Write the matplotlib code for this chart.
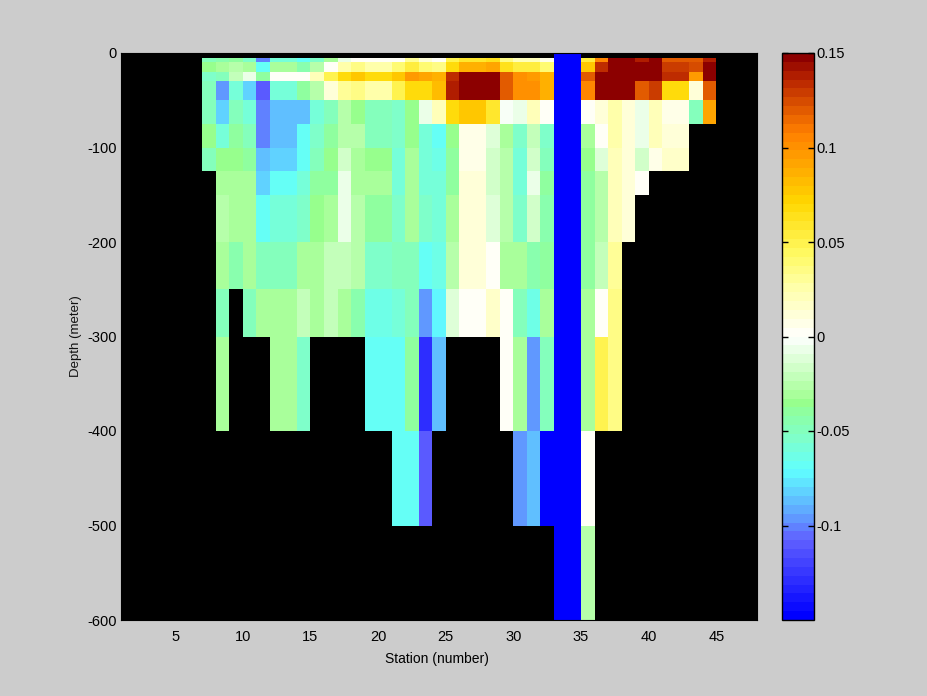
import numpy as np
import matplotlib
matplotlib.use('Agg')
import matplotlib.pyplot as plt
from matplotlib.colors import LinearSegmentedColormap

n = np.nan
b = -0.15

# cell edges, stations 7 to 45
stations = list(range(7, 46))
depths = [0, -5, -10, -20, -30, -50, -75, -100, -125, -150, -200, -250, -300, -400, -500, -600]

# one row per depth layer, columns are stations 7..44
row_0_5 = [n]*26 + [b, b] + [n]*10
row_5_10 = [-.048, -.044, -.041, -.054, -.103, -.06, -.06, -.07, -.054, -.032, -.007, 0, 0, 0, 0, .03, .011, 0, .05,
            .058, .058, .062, .033, .02, .021, .006, b, b, .055, .106, .15, .15, .14, .148, .118, .118, .118, .14]
row_10_20 = [-.036, -.032, -.025, -.03, -.07, -.032, -.032, -.044, -.025, 0, .026, .036, .024, .027, .042, .052, .042, .037, .068,
             .086, .086, .093, .063, .055, .055, .042, b, b, .075, .135, .15, .15, .15, .15, .13, .13, .122, .15]
row_20_30 = [-.052, -.05, -.02, -.007, -.04, .003, .003, .003, .022, .05, .068, .075, .068, .068, .076, .097, .09, .088, .135,
             .15, .15, .15, .118, .102, .097, .086, b, b, .118, .15, .15, .15, .15, .15, .135, .135, .097, .15]
row_30_50 = [-.05, -.094, -.06, -.08, -.109, -.06, -.06, -.042, -.028, .011, .032, .037, .027, .027, .05, .068, .068, .082, .14,
             .15, .15, .15, .118, .102, .102, .086, b, b, .106, .15, .15, .15, .118, .13, .068, .068, .011, .118]
row_50_75 = [-.05, -.08, -.05, -.06, -.103, -.088, -.088, -.088, -.06, -.048, -.028, -.036, -.05, -.05, -.056, -.035, -.007, .021, .068,
             .078, .078, .058, -.002, -.007, .021, .003, b, b, .003, .011, .027, .01, -.007, .023, .009, .009, -.048, .093]
row_75_100 = [-.036, -.06, -.04, -.048, -.099, -.085, -.085, -.07, -.056, -.038, -.026, -.026, -.048, -.048, -.052, -.036, -.06, -.07, -.036,
              .006, .006, -.012, -.032, -.052, -.022, -.052, b, b, -.032, .001, .027, .011, -.007, .023, .011, .011, n, n]
row_100_125 = [-.048, -.036, -.035, -.04, -.088, -.08, -.08, -.066, -.048, -.036, -.016, -.032, -.036, -.036, -.06, -.03, -.06, -.063, -.038,
               .007, .007, -.018, -.028, -.06, -.018, -.048, b, b, -.035, -.012, .021, .011, -.018, .006, .016, .016, n, n]
row_125_150 = [n, -.032, -.032, -.032, -.08, -.07, -.07, -.06, -.04, -.038, -.009, -.03, -.032, -.032, -.06, -.03, -.06, -.06, -.038,
               .012, .012, -.018, -.028, -.06, -.009, -.04, b, b, -.038, -.025, .023, .011, .002, n, n, n, n, n]
row_150_200 = [n, -.025, -.032, -.032, -.066, -.06, -.06, -.052, -.036, -.03, -.009, -.025, -.041, -.041, -.056, -.032, -.056, -.06, -.032,
               .013, .013, -.012, -.028, -.056, -.018, -.044, b, b, -.038, -.028, .023, .011, n, n, n, n, n, n]
row_200_250 = [n, -.032, -.044, -.032, -.048, -.048, -.048, -.032, -.032, -.02, -.02, -.026, -.056, -.056, -.048, -.048, -.07, -.063, -.028,
               .01, .01, .001, -.032, -.032, -.044, -.04, b, b, -.038, -.02, .031, n, n, n, n, n, n, n]
row_250_300 = [n, -.048, n, -.048, -.032, -.032, -.032, -.02, -.032, -.02, -.032, -.044, -.063, -.063, -.06, -.048, -.096, -.075, -.012,
               .002, .002, .018, .003, -.05, -.063, -.032, b, b, -.032, .003, .036, n, n, n, n, n, n, n]
row_300_400 = [n, -.032, n, n, n, -.032, -.032, -.056, n, n, n, n, -.07, -.07, -.07, -.041, -.129, -.088, n,
               n, n, n, .003, -.03, -.096, -.048, b, b, -.03, .05, .037, n, n, n, n, n, n, n]
row_400_500 = [n]*14 + [-.07, -.07, -.109] + [n]*6 + [-.094, -.088, -.148, b, b, 0] + [n]*9
row_500_600 = [n]*26 + [b, b, -.024] + [n]*9
rows = [row_0_5, row_5_10, row_10_20, row_20_30, row_30_50, row_50_75, row_75_100, row_100_125, row_125_150,
        row_150_200, row_200_250, row_250_300, row_300_400, row_400_500, row_500_600]

# colormap
cmap_pos = [0, .136, .18, .26, .32, .36, .38, .392, .5, .587, .647, .74, .794, .864, .9, .965, 1]
cmap_col = [(0, 0, 255), (96, 96, 255), (96, 160, 255), (96, 255, 255), (128, 255, 200), (140, 255, 165), (150, 255, 140),
            (165, 255, 150), (255, 255, 255), (255, 255, 170), (255, 250, 100), (255, 215, 0), (255, 176, 0),
            (255, 128, 0), (230, 96, 0), (180, 32, 0), (140, 0, 0)]

xticks = [5, 10, 15, 20, 25, 30, 35, 40, 45]
yticks = [0, -100, -200, -300, -400, -500, -600]
cbar_ticks = [0.15, 0.1, 0.05, 0, -0.05, -0.1]
cbar_labels = ['0.15', '0.1', '0.05', '0', '-0.05', '-0.1']

plt.rcParams['font.family'] = ['Liberation Sans', 'DejaVu Sans']
plt.rcParams['font.size'] = 10
plt.rcParams['axes.unicode_minus'] = False

cols = [tuple(v / 255 for v in c) for c in cmap_col]
cmap = LinearSegmentedColormap.from_list('ts', list(zip(cmap_pos, cols)), N=64)

fig = plt.figure(figsize=(9.28, 6.96), dpi=100, facecolor='#cccccc')
ax = fig.add_axes([121 / 928, 76 / 696, 636 / 928, 567 / 696], facecolor='black')
Z = np.ma.masked_invalid(np.array(rows))
mesh = ax.pcolormesh(stations, depths, Z, cmap=cmap, vmin=-0.15, vmax=0.15, antialiased=False, linewidth=0)
ax.set_xlim(1, 48)
ax.set_ylim(-600, 0)
ax.set_xticks(xticks)
ax.set_yticks(yticks)
ax.tick_params(axis='x', length=0, pad=7, labelsize=10.5)
ax.tick_params(axis='y', length=0, pad=3, labelsize=10.5)
ax.set_xlabel('Station (number)', labelpad=6, x=0.497)
ax.set_ylabel('Depth (meter)', labelpad=4, y=0.501, fontsize=9.5)
ax.yaxis.label.set_color('#111111')
for s in ax.spines.values():
    s.set_color('black')

cax = fig.add_axes([782 / 928, 76 / 696, 32 / 928, 567 / 696])
cb = fig.colorbar(mesh, cax=cax)
cb.set_ticks(cbar_ticks)
cb.set_ticklabels(cbar_labels)
cb.solids.set_antialiased(False)
cb.outline.set_edgecolor('black')
cb.outline.set_linewidth(1)
cax.tick_params(direction='in', length=4, width=1, left=True, right=True, pad=2, color='black', labelsize=10.5)

fig.savefig('out.png', dpi=100, facecolor=fig.get_facecolor())
